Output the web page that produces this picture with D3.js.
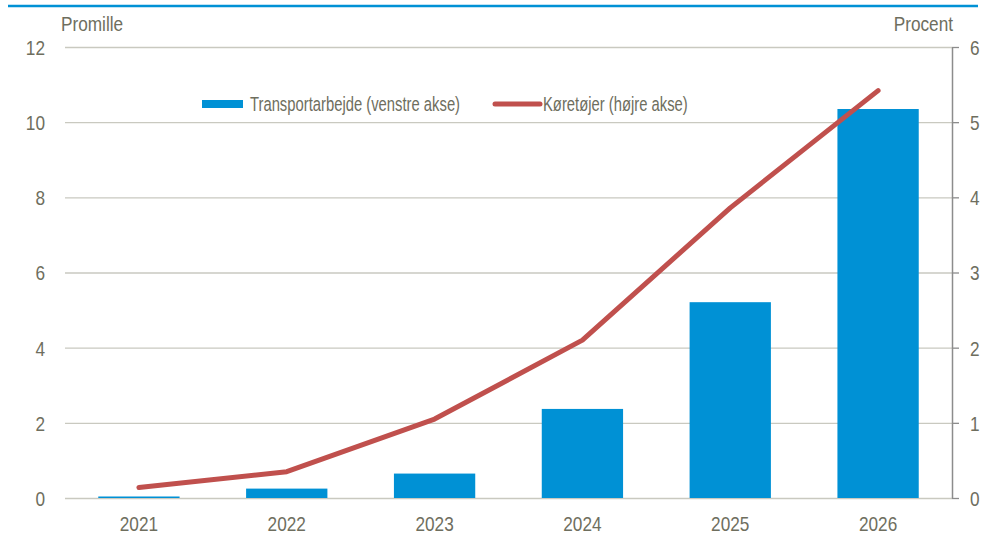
<!DOCTYPE html>
<html>
<head>
<meta charset="utf-8">
<script src="https://cdn.jsdelivr.net/npm/d3@7"></script>
<style>
  body { margin:0; background:#fff; }
  svg text { font-family:"Liberation Sans Narrow","Liberation Sans",Arial,sans-serif; fill:#6e6e5e; }
</style>
</head>
<body>
<div id="chart"></div>
<script>
// data
var years = ["2021","2022","2023","2024","2025","2026"];
var transport = [0.04, 0.25, 0.65, 2.37, 5.21, 10.35];   // promille, left axis
var vehicles = [0.14, 0.35, 1.05, 2.10, 3.86, 5.42];     // procent, right axis
var leftTicks = [0, 2, 4, 6, 8, 10, 12];
var rightTicks = [0, 1, 2, 3, 4, 5, 6];

var blue = "#0091d5", red = "#c0504d";

var width = 984, height = 537;
var mLeft = 65, mRight = 952, mTop = 47, mBottom = 498;

// squeeze text horizontally (no Arial Narrow installed), keep its anchor point
function narrow(sel, k){
  k = k || 0.82;
  sel.each(function(){
    var t = d3.select(this);
    var x0 = +t.attr("x") || 0;
    t.attr("x", x0 / k).attr("transform", "scale(" + k + ",1)");
  });
}

var svg = d3.select("#chart")
  .append("svg")
  .attr("width", width)
  .attr("height", height);

// thin blue rule on top
svg.append("line")
  .attr("x1", 8).attr("x2", 978)
  .attr("y1", 6).attr("y2", 6)
  .attr("stroke", blue)
  .attr("stroke-width", 2.5);

var x = d3.scaleBand().domain(years).range([mLeft, mRight]).paddingInner(0.45).paddingOuter(0.225);
var xc = d3.scaleBand().domain(years).range([mLeft, mRight]);
var yL = d3.scaleLinear().domain([0, 12]).range([mBottom, mTop]);
var yR = d3.scaleLinear().domain([0, 6]).range([mBottom, mTop]);

// gridlines + left labels
var leftAxis = d3.axisLeft(yL).tickValues(leftTicks).tickFormat(d3.format("d"))
  .tickSize(-(mRight - mLeft)).tickPadding(20);
var gL = svg.append("g")
  .attr("transform", "translate(" + mLeft + ",0)")
  .call(leftAxis);
gL.select(".domain").remove();
gL.selectAll(".tick line").attr("stroke", "#c9c9c0").attr("stroke-width", 1.3);
gL.selectAll(".tick text").style("font-size", "21px").attr("dy", "0.35em").call(narrow);

// bars
svg.append("g").selectAll("rect.bars")
  .data(transport)
  .enter()
  .append("rect")
  .attr("class", "bars")
  .attr("x", function(d, i){ return x(years[i]); })
  .attr("width", x.bandwidth())
  .attr("y", function(d){ return yL(d); })
  .attr("height", function(d){ return Math.max(0, yL(0) - yL(d)); })
  .attr("fill", blue);

// right axis
var rightAxis = d3.axisRight(yR).tickValues(rightTicks).tickFormat(d3.format("d"))
  .tickSize(7).tickPadding(11).tickSizeOuter(0);
var gR = svg.append("g")
  .attr("transform", "translate(" + mRight + ",0)")
  .call(rightAxis);
gR.select(".domain").attr("stroke", "#8c8c8c").attr("stroke-width", 1.5);
gR.selectAll(".tick line").attr("stroke", "#8c8c8c").attr("stroke-width", 1.3);
gR.selectAll(".tick text").style("font-size", "21px").attr("dy", "0.35em").call(narrow);

// x labels
var xAxis = d3.axisBottom(xc).tickSize(0).tickPadding(18);
var gX = svg.append("g")
  .attr("transform", "translate(0," + mBottom + ")")
  .call(xAxis);
gX.select(".domain").remove();
gX.selectAll(".tick text").style("font-size", "21px").call(narrow);

// line
var line = d3.line()
  .x(function(d, i){ return xc(years[i]) + xc.bandwidth() / 2; })
  .y(function(d){ return yR(d); });

svg.append("path")
  .datum(vehicles)
  .attr("d", line)
  .attr("fill", "none")
  .attr("stroke", red)
  .attr("stroke-width", 5)
  .attr("stroke-linecap", "round")
  .attr("stroke-linejoin", "round");

// axis titles
svg.append("text")
  .attr("x", 61).attr("y", 31)
  .style("font-size", "21px")
  .text("Promille")
  .call(narrow);

svg.append("text")
  .attr("x", 953).attr("y", 31)
  .attr("text-anchor", "end")
  .style("font-size", "21px")
  .text("Procent")
  .call(narrow);

// legend
var legend = svg.append("g");
legend.append("rect")
  .attr("x", 202).attr("y", 100)
  .attr("width", 41).attr("height", 8)
  .attr("fill", blue);
legend.append("text")
  .attr("x", 250).attr("y", 111)
  .style("font-size", "19.5px")
  .text("Transportarbejde (venstre akse)")
  .call(narrow, 0.76);
legend.append("line")
  .attr("x1", 495).attr("x2", 540)
  .attr("y1", 104).attr("y2", 104)
  .attr("stroke", red)
  .attr("stroke-width", 5)
  .attr("stroke-linecap", "round");
legend.append("text")
  .attr("x", 543).attr("y", 111)
  .style("font-size", "19.5px")
  .text("Køretøjer (højre akse)")
  .call(narrow, 0.76);
</script>
</body>
</html>
